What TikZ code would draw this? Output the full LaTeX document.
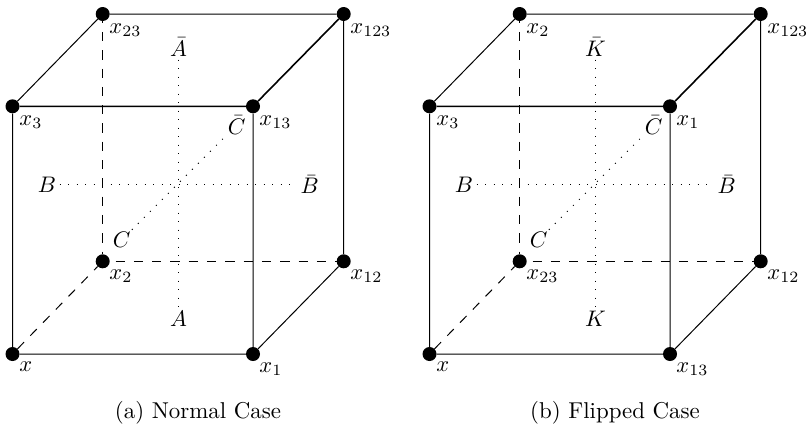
\documentclass[tikz,border=0pt]{standalone}
\begin{document}
\begin{tikzpicture}[x=1pt,y=-1pt,
  vert/.style={circle,fill=black,inner sep=0pt,minimum size=14pt},
  lbl/.style={inner sep=0pt,scale=2.25},
  captext/.style={inner sep=0pt,scale=2.29},
  solidedge/.style={line width=1pt},
  heavyedge/.style={line width=1.6pt},
  hidden/.style={line width=1pt,dash pattern=on 9.3pt off 9pt},
  axis/.style={line width=1pt,dash pattern=on 1pt off 7.5pt,shorten >=3pt,shorten <=3pt}]
\useasboundingbox (0,0) rectangle (806,426);
\foreach \dx/\nm/\a/\b/\c/\d/\e/\f/\g/\h/\Aa/\Ab in {
 0/L/x/x_1/x_2/x_3/x_{12}/x_{13}/x_{23}/x_{123}/\bar{A}/A,
 417/R/x/x_{13}/x_{23}/x_3/x_{12}/x_1/x_2/x_{123}/\bar{K}/K}{
 \begin{scope}[shift={(\dx,0)}]
  \node[vert] (\nm o) at (12.5,354) {};
  \node[vert] (\nm a) at (253,354) {};
  \node[vert] (\nm b) at (102.7,261.3) {};
  \node[vert] (\nm c) at (12.5,106.3) {};
  \node[vert] (\nm ab) at (343.7,261.3) {};
  \node[vert] (\nm ac) at (253,106.3) {};
  \node[vert] (\nm bc) at (102.7,14) {};
  \node[vert] (\nm abc) at (343.7,14) {};
  \draw[solidedge] (\nm o)--(\nm a) (\nm o)--(\nm c) (\nm a)--(\nm ab) (\nm ab)--(\nm abc) (\nm bc)--(\nm abc) (\nm c)--(\nm bc) (\nm ac)--(\nm a);
  \draw[heavyedge] (\nm c)--(\nm ac) (\nm ac)--(\nm abc);
  \draw[hidden] (\nm o)--(\nm b);
  \draw[hidden,dash phase=12.7pt] (\nm b)--(\nm ab);
  \draw[hidden,dash phase=7.6pt] (\nm bc)--(\nm b);
  \node[lbl,anchor=west] (\nm lo) at (19,367) {$\a$};
  \node[lbl,anchor=west] (\nm la) at (259,369) {$\b$};
  \node[lbl,anchor=west] (\nm lb) at (109,276) {$\c$};
  \node[lbl,anchor=west] (\nm lc) at (19,122) {$\d$};
  \node[lbl,anchor=west] (\nm lab) at (350,276) {$\e$};
  \node[lbl,anchor=west] (\nm lac) at (259,122) {$\f$};
  \node[lbl,anchor=west] (\nm lbc) at (109,30) {$\g$};
  \node[lbl,anchor=west] (\nm labc) at (350,30) {$\h$};
  \node[lbl] (\nm At) at (178.5,47) {$\Aa$};
  \node[lbl] (\nm Ab) at (178.5,319) {$\Ab$};
  \node[lbl] (\nm B) at (47,184.5) {$B$};
  \node[lbl] (\nm Bb) at (309.7,184.5) {$\bar{B}$};
  \node[lbl] (\nm C) at (121.7,240) {$C$};
  \node[lbl] (\nm Cb) at (236.7,125) {$\bar{C}$};
  \draw[axis] (\nm At)--(\nm Ab);
  \draw[axis] (\nm B)--(\nm Bb);
  \draw[axis] (\nm C)--(\nm Cb);
 \end{scope}
}
\node[captext] (capL) at (198,413) {(a) Normal Case};
\node[captext] (capR) at (615,413) {(b) Flipped Case};
\end{tikzpicture}
\end{document}
